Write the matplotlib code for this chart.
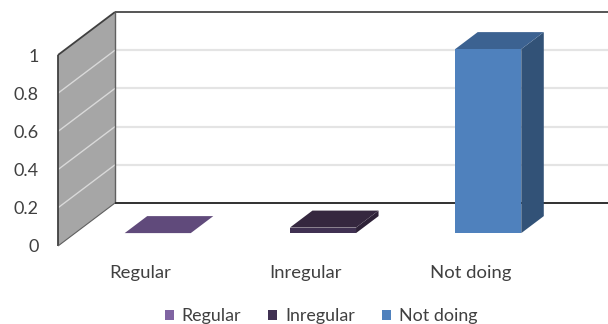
import matplotlib
matplotlib.use("Agg")
import matplotlib.pyplot as plt
from matplotlib.patches import Polygon, Patch

plt.rcParams["font.family"] = ["Lato", "DejaVu Sans"]

categories = ["Regular", "Inregular", "Not doing"]
values = [0.0, 0.03, 1.0]
y_ticks = [0, 0.2, 0.4, 0.6, 0.8, 1]
y_tick_labels = ["0", "0.2", "0.4", "0.6", "0.8", "1"]
front_colors = ["#604a7b", "#403152", "#4f81bd"]
top_colors = ["#604a7b", "#35273f", "#3c6291"]
side_colors = ["#604a7b", "#2e2238", "#325277"]
legend_colors = ["#8064a2", "#403152", "#4f81bd"]

W, H = 608, 324
fig = plt.figure(figsize=(W / 100, H / 100), dpi=100, facecolor="white")
# Front plane of the oblique box, in figure fractions
left, right, bottom, top = 58, 553.75, 246, 55
ax = fig.add_axes([left / W, 1 - bottom / H, (right - left) / W, (bottom - top) / H])
ax.set_xlim(-0.5, 2.5)
ax.set_ylim(0, 1)
ax.patch.set_visible(False)
for s in ax.spines.values():
    s.set_visible(False)

# Oblique depth vector of the whole box, in data units
DX = 57 / ((right - left) / 3)
DY = 43 / (bottom - top)
BAR_SCALE = 184 / 191  # column height per unit value
BAR_W = 0.4
D0, D1 = 0.30, 0.695


def project(x, v, d):
    return (x + DX * d, v + DY * d)


def poly(points, color, z, edge=None, lw=0.0):
    ax.add_patch(Polygon([project(*p) for p in points], closed=True, facecolor=color,
                         edgecolor=edge or color, linewidth=lw, zorder=z, clip_on=False))


def line(p, q, color, lw, z):
    a, b = project(*p), project(*q)
    ax.plot([a[0], b[0]], [a[1], b[1]], color=color, lw=lw, zorder=z, clip_on=False,
            solid_capstyle="butt")


x0, x1 = -0.5, 2.5
# Side wall
poly([(x0, 0, 0), (x0, 0, 1), (x0, 1, 1), (x0, 1, 0)], "#a6a6a6", 1)
# Gridlines across the wall and the back plane
for t in y_ticks[1:-1]:
    line((x0, t, 0), (x0, t, 1), "#d9d9d9", 1.0, 2)
    line((x0, t, 1), (x1, t, 1), "#e4e4e4", 1.6, 2)
# Box edges
edge = "#404040"
line((x0, 0, 0), (x0, 1, 0), edge, 1.3, 3)
line((x0, 1, 0), (x0, 1, 1), edge, 1.3, 3)
line((x0, 0, 1), (x0, 1, 1), "#606060", 1.0, 3)
line((x0, 0, 0), (x0, 0, 1), "#606060", 0.8, 3)
line((x0, 1, 1), (x1, 1, 1), "#555555", 1.4, 3)
line((x0, 0, 1), (x1, 0, 1), "#303030", 1.4, 3)

# Columns: side, top, then front face
for i, val in enumerate(values):
    h = val * BAR_SCALE
    a, b = i - BAR_W / 2, i + BAR_W / 2
    if h > 0:
        poly([(b, 0, D0), (b, 0, D1), (b, h, D1), (b, h, D0)], side_colors[i], 4)
    poly([(a, h, D0), (b, h, D0), (b, h, D1), (a, h, D1)], top_colors[i], 5)
    if h > 0:
        poly([(a, 0, D0), (b, 0, D0), (b, h, D0), (a, h, D0)], front_colors[i], 6)

text_color = "#404040"
ax.set_yticks(y_ticks)
ax.set_yticklabels(y_tick_labels, fontsize=13, color=text_color)
ax.set_xticks(range(len(categories)))
ax.set_xticklabels(categories, fontsize=13.3, color=text_color)
ax.tick_params(axis="both", length=0)
ax.tick_params(axis="y", pad=14)
ax.tick_params(axis="x", pad=14)

handles = [Patch(facecolor=c, edgecolor="none", linewidth=0, label=n)
           for c, n in zip(legend_colors, categories)]
fig.legend(handles=handles, ncol=3, loc="center", bbox_to_anchor=(321 / W, 1 - 316 / H),
           frameon=False, fontsize=12.9, labelcolor=text_color, handlelength=0.5, handleheight=0.5,
           handletextpad=0.45, columnspacing=1.5, borderpad=0, borderaxespad=0)

fig.savefig("out.png", dpi=100, facecolor="white")
